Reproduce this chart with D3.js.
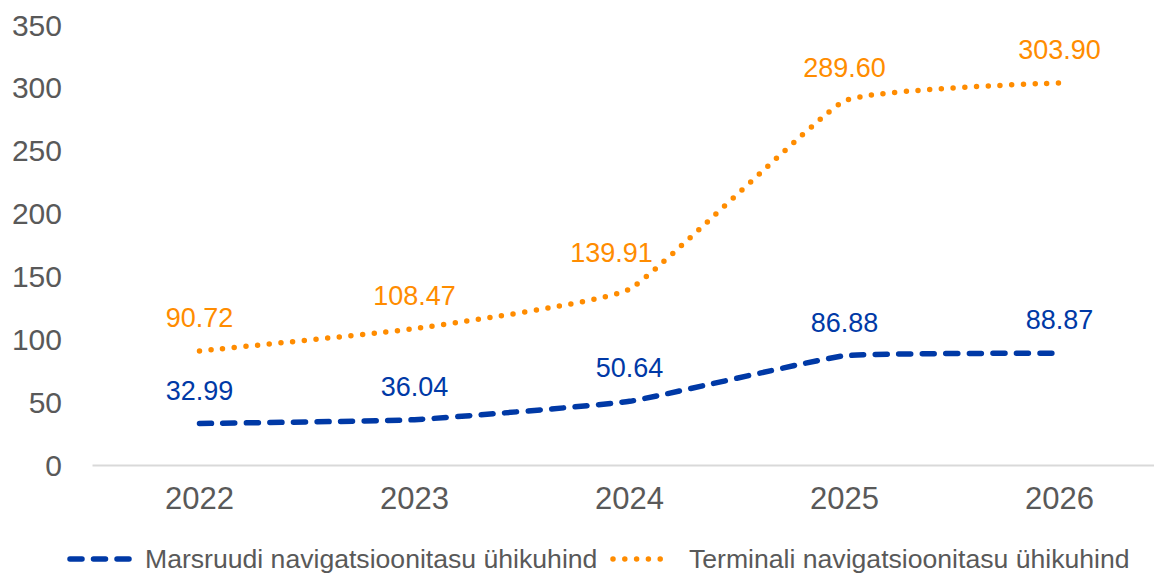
<!DOCTYPE html>
<html>
<head>
<meta charset="utf-8">
<script src="https://cdn.jsdelivr.net/npm/d3@7"></script>
<style>
  body { margin: 0; background: #fff; }
  svg { display: block; font-family: "Liberation Sans", Arial, sans-serif; }
</style>
</head>
<body>
<div id="chart"></div>
<script>
const years = ['2022', '2023', '2024', '2025', '2026'];
const routeValues = [32.99, 36.04, 50.64, 86.88, 88.87];
const terminalValues = [90.72, 108.47, 139.91, 289.60, 303.90];
const yTicks = [0, 50, 100, 150, 200, 250, 300, 350];
const seriesNames = ['Marsruudi navigatsioonitasu ühikuhind', 'Terminali navigatsioonitasu ühikuhind'];

const width = 1154;
const height = 573;
const blue = '#0039a6';
const orange = '#ff8c00';
const textGray = '#595959';

const svg = d3.select('#chart')
  .append('svg')
  .attr('width', width)
  .attr('height', height);

const x = d3.scaleBand()
  .domain(years)
  .range([92, 1167]);

const y = d3.scaleLinear()
  .domain([0, 350])
  .range([465, 25]);

// y tick labels (no axis line)
svg.append('g')
  .selectAll('text')
  .data(yTicks)
  .join('text')
  .attr('x', 62)
  .attr('y', d => y(d))
  .attr('dy', '0.35em')
  .attr('text-anchor', 'end')
  .attr('fill', textGray)
  .style('font-size', '30px')
  .text(d => d);

// x axis
const xAxis = svg.append('g')
  .attr('transform', `translate(0,${y(0)})`)
  .call(d3.axisBottom(x).tickSize(0).tickPadding(22));
xAxis.select('.domain').attr('stroke', '#d9d9d9').attr('stroke-width', 2);
xAxis.selectAll('text')
  .attr('fill', textGray)
  .style('font-size', '31px')
  .style('font-family', '"Liberation Sans", Arial, sans-serif');

// nearly straight segments with small rounded corners, like the Excel smoothing
const line = d3.line()
  .x((d, i) => x(years[i]) + x.bandwidth() / 2)
  .y(d => y(d))
  .curve(d3.curveCardinal.tension(0.65));

svg.append('path')
  .datum(terminalValues)
  .attr('d', line)
  .attr('fill', 'none')
  .attr('stroke', orange)
  .attr('stroke-width', 5.5)
  .attr('stroke-linecap', 'round')
  .attr('stroke-dasharray', '0 11.7');

svg.append('path')
  .datum(routeValues)
  .attr('d', line)
  .attr('fill', 'none')
  .attr('stroke', blue)
  .attr('stroke-width', 5.5)
  .attr('stroke-linecap', 'round')
  .attr('stroke-dasharray', '12 11.5');

// data labels
const addLabels = (values, color, cls) => {
  svg.append('g')
    .selectAll('text.' + cls)
    .data(values)
    .join('text')
    .attr('class', cls)
    .attr('x', (d, i) => x(years[i]) + x.bandwidth() / 2 + (cls === 'term' && i === 2 ? -18 : 0))
    .attr('y', (d, i) => y(d) - (cls === 'term' && i === 2 ? 27 : 24))
    .attr('text-anchor', 'middle')
    .attr('fill', color)
    .style('font-size', '27px')
    .text(d => d.toFixed(2));
};
addLabels(routeValues, blue, 'route');
addLabels(terminalValues, orange, 'term');

// legend
const legend = svg.append('g');
legend.append('line')
  .attr('x1', 70).attr('x2', 129)
  .attr('y1', 559).attr('y2', 559)
  .attr('stroke', blue)
  .attr('stroke-width', 5.5)
  .attr('stroke-linecap', 'round')
  .attr('stroke-dasharray', '12 11.5');
legend.append('text')
  .attr('x', 145).attr('y', 568)
  .attr('fill', textGray)
  .style('font-size', '26.6px')
  .text(seriesNames[0]);
legend.append('line')
  .attr('x1', 613).attr('x2', 672)
  .attr('y1', 559).attr('y2', 559)
  .attr('stroke', orange)
  .attr('stroke-width', 5.5)
  .attr('stroke-linecap', 'round')
  .attr('stroke-dasharray', '0 11.8');
legend.append('text')
  .attr('x', 689).attr('y', 568)
  .attr('fill', textGray)
  .style('font-size', '26.6px')
  .text(seriesNames[1]);
</script>
</body>
</html>
